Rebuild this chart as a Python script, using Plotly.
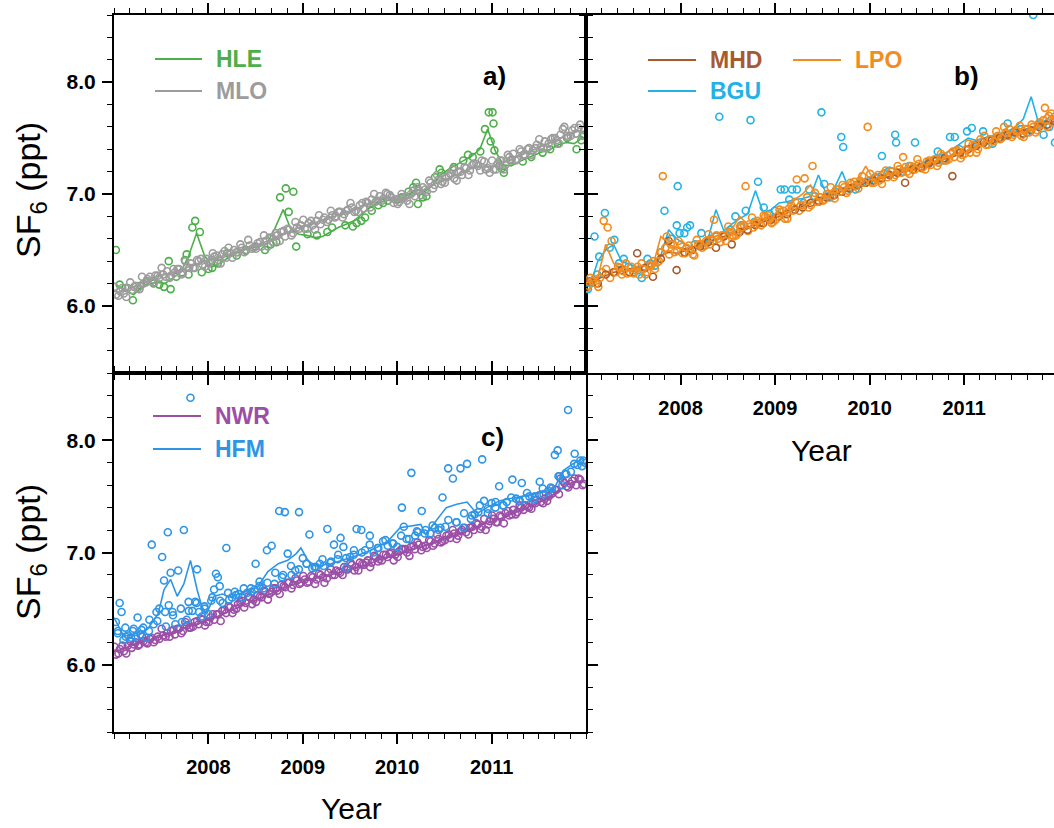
import plotly.graph_objects as go

# ---------------- time grids (decimal years) ----------------
SEMI = [2007 + (i + 0.5) / 24 for i in range(120)]   # semi-monthly samples
SEMI_B = [2007.005 + i / 24 for i in range(120)]     # interleaved semi-monthly samples
MONTH = [2007 + (i + 0.5) / 12 for i in range(60)]   # monthly samples / smoothed curves

YEAR_TICKS = [2008, 2009, 2010, 2011]
YEAR_LABELS = ["2008", "2009", "2010", "2011"]
SF6_TICKS = [6.0, 7.0, 8.0]
SF6_LABELS = ["6.0", "7.0", "8.0"]

# ---------------- panel a ----------------
MLO_PTS = [
    6.10, 6.13, 6.11, 6.16, 6.14, 6.18, 6.15, 6.20, 6.24, 6.22, 6.27, 6.25,
    6.28, 6.31, 6.27, 6.30, 6.33, 6.29, 6.35, 6.38, 6.34, 6.40, 6.37, 6.42,
    6.40, 6.44, 6.41, 6.46, 6.43, 6.47, 6.50, 6.48, 6.52, 6.49, 6.54, 6.52,
    6.56, 6.53, 6.58, 6.61, 6.57, 6.63, 6.66, 6.62, 6.68, 6.65, 6.70, 6.72,
    6.69, 6.74, 6.72, 6.76, 6.73, 6.79, 6.77, 6.81, 6.80, 6.84, 6.82, 6.86,
    6.88, 6.85, 6.90, 6.87, 6.92, 6.95, 6.93, 6.98, 6.96, 7.00, 6.97, 6.95,
    6.93, 6.96, 6.94, 7.00, 6.98, 7.03, 7.06, 7.02, 7.10, 7.08, 7.13, 7.11,
    7.15, 7.18, 7.14, 7.20, 7.17, 7.23, 7.21, 7.27, 7.25, 7.30, 7.22, 7.19,
    7.22, 7.27, 7.30, 7.26, 7.33, 7.36, 7.31, 7.38, 7.35, 7.41, 7.39, 7.44,
    7.42, 7.47, 7.45, 7.50, 7.48, 7.53, 7.60, 7.51, 7.57, 7.54, 7.62, 7.57,
]
MLO_PTS_B = [
    6.17, 6.09, 6.16, 6.08, 6.21, 6.17, 6.16, 6.26, 6.21, 6.26, 6.21, 6.27,
    6.34, 6.26, 6.25, 6.33, 6.33, 6.28, 6.40, 6.34, 6.34, 6.41, 6.42, 6.35,
    6.38, 6.47, 6.45, 6.38, 6.49, 6.52, 6.43, 6.48, 6.55, 6.48, 6.59, 6.51,
    6.51, 6.57, 6.63, 6.53, 6.61, 6.65, 6.58, 6.67, 6.69, 6.63, 6.75, 6.69,
    6.77, 6.69, 6.76, 6.68, 6.81, 6.77, 6.75, 6.85, 6.79, 6.84, 6.79, 6.85,
    6.92, 6.84, 6.84, 6.92, 6.93, 6.88, 7.00, 6.94, 6.94, 7.01, 6.99, 6.92,
    6.91, 7.00, 6.98, 6.91, 7.03, 7.06, 6.99, 7.04, 7.12, 7.05, 7.17, 7.09,
    7.10, 7.16, 7.22, 7.12, 7.20, 7.24, 7.17, 7.26, 7.27, 7.21, 7.29, 7.23,
    7.30, 7.22, 7.30, 7.22, 7.35, 7.31, 7.30, 7.40, 7.35, 7.40, 7.35, 7.41,
    7.49, 7.41, 7.41, 7.49, 7.50, 7.45, 7.58, 7.52, 7.52, 7.59, 7.59, 7.52,
]
MLO_LINE = [
    6.12, 6.14, 6.17, 6.20, 6.23, 6.26, 6.28, 6.30, 6.32, 6.35, 6.37, 6.40,
    6.42, 6.44, 6.46, 6.48, 6.51, 6.53, 6.55, 6.58, 6.61, 6.64, 6.67, 6.70,
    6.72, 6.74, 6.77, 6.79, 6.81, 6.84, 6.86, 6.89, 6.92, 6.95, 6.97, 6.97,
    6.95, 6.97, 7.00, 7.04, 7.08, 7.11, 7.14, 7.17, 7.20, 7.23, 7.25, 7.24,
    7.25, 7.28, 7.31, 7.34, 7.37, 7.40, 7.43, 7.46, 7.49, 7.53, 7.55, 7.57,
]
HLE_T = [
    2007.02, 2007.06, 2007.12, 2007.20, 2007.28, 2007.35, 2007.42, 2007.48, 2007.53, 2007.58,
    2007.60, 2007.66, 2007.72, 2007.75, 2007.77, 2007.79, 2007.83, 2007.86, 2007.91, 2007.93,
    2008.00, 2008.04, 2008.10, 2008.20, 2008.30, 2008.40, 2008.50, 2008.60, 2008.66, 2008.72,
    2008.76, 2008.82, 2008.85, 2008.90, 2008.93, 2009.05, 2009.15, 2009.26, 2009.31, 2009.45,
    2009.53, 2009.57, 2009.62, 2009.66, 2009.73, 2009.80, 2009.85, 2009.90, 2010.00, 2010.05,
    2010.12, 2010.17, 2010.20, 2010.22, 2010.27, 2010.31, 2010.40, 2010.45, 2010.47, 2010.60,
    2010.70, 2010.75, 2010.80, 2010.88, 2010.93, 2010.97, 2010.99, 2011.01, 2011.02, 2011.03,
    2011.08, 2011.11, 2011.13, 2011.20, 2011.33, 2011.42, 2011.54, 2011.62, 2011.70, 2011.80,
    2011.90, 2011.95, 2011.98,
]
HLE_PTS = [
    6.50, 6.19, 6.16, 6.05, 6.18, 6.22, 6.20, 6.19, 6.17, 6.40,
    6.15, 6.26, 6.30, 6.41, 6.46, 6.28, 6.70, 6.76, 6.66, 6.30,
    6.33, 6.34, 6.38, 6.47, 6.45, 6.50, 6.53, 6.50, 6.55, 6.57,
    6.97, 7.05, 6.84, 7.02, 6.53, 6.64, 6.63, 6.66, 6.70, 6.72,
    6.71, 6.74, 6.76, 6.79, 6.85, 6.90, 6.92, 6.94, 6.95, 6.97,
    7.02, 7.06, 7.10, 6.91, 6.97, 6.98, 7.15, 7.22, 7.19, 7.24,
    7.30, 7.35, 7.33, 7.38, 7.58, 7.73, 7.47, 7.73, 7.63, 7.39,
    7.25, 7.23, 7.19, 7.30, 7.29, 7.33, 7.37, 7.40, 7.45, 7.50,
    7.40, 7.48, 7.53,
]
HLE_LINE = [
    6.18, 6.14, 6.10, 6.17, 6.20, 6.21, 6.20, 6.25, 6.30, 6.45, 6.65, 6.45,
    6.35, 6.38, 6.43, 6.47, 6.50, 6.52, 6.53, 6.56, 6.70, 6.86, 6.68, 6.64,
    6.63, 6.61, 6.62, 6.66, 6.70, 6.73, 6.76, 6.82, 6.88, 6.92, 6.94, 6.95,
    6.96, 7.00, 7.04, 7.02, 7.08, 7.17, 7.22, 7.26, 7.30, 7.34, 7.40, 7.58,
    7.38, 7.26, 7.25, 7.29, 7.32, 7.35, 7.38, 7.40, 7.44, 7.46, 7.45, 7.50,
]

# ---------------- panel b ----------------
LPO_PTS = [
    6.18, 6.22, 6.20, 6.25, 6.76, 6.70, 6.58, 6.30, 6.34, 6.31, 6.29, 6.35,
    6.32, 6.28, 6.33, 6.30, 6.36, 6.33, 6.40, 7.16, 6.62, 6.55, 6.48, 6.58,
    6.47, 6.52, 6.50, 6.45, 6.55, 6.52, 6.58, 6.55, 6.77, 6.60, 6.63, 6.58,
    6.66, 6.62, 6.65, 6.70, 7.07, 6.73, 6.70, 6.76, 6.72, 6.80, 6.78, 6.75,
    6.80, 6.84, 6.78, 6.87, 6.85, 7.13, 6.90, 7.14, 6.88, 7.25, 6.93, 6.97,
    6.95, 7.00, 6.98, 7.04, 7.02, 7.06, 7.03, 7.09, 7.07, 7.12, 7.10, 7.60,
    7.10, 7.14, 7.12, 7.18, 7.15, 7.20, 7.17, 7.22, 7.33, 7.20, 7.25, 7.22,
    7.27, 7.24, 7.29, 7.26, 7.31, 7.28, 7.34, 7.30, 7.36, 7.33, 7.38, 7.35,
    7.40, 7.37, 7.43, 7.40, 7.46, 7.44, 7.49, 7.47, 7.52, 7.50, 7.55, 7.58,
    7.53, 7.56, 7.52, 7.58, 7.55, 7.60, 7.57, 7.62, 7.77, 7.70, 7.64, 7.68,
]
LPO_PTS_B = [
    6.16, 6.25, 6.24, 6.17, 6.30, 6.33, 6.25, 6.30, 6.35, 6.28, 6.38, 6.30,
    6.29, 6.35, 6.38, 6.28, 6.36, 6.40, 6.39, 6.48, 6.52, 6.46, 6.55, 6.49,
    6.55, 6.47, 6.54, 6.46, 6.59, 6.55, 6.54, 6.64, 6.58, 6.63, 6.57, 6.63,
    6.71, 6.63, 6.63, 6.71, 6.72, 6.67, 6.79, 6.73, 6.74, 6.81, 6.81, 6.74,
    6.77, 6.86, 6.85, 6.78, 6.90, 6.93, 6.85, 6.90, 6.97, 6.90, 7.01, 6.93,
    6.94, 7.00, 7.06, 6.96, 7.04, 7.08, 7.01, 7.10, 7.11, 7.05, 7.16, 7.10,
    7.18, 7.10, 7.17, 7.09, 7.21, 7.17, 7.15, 7.25, 7.19, 7.24, 7.18, 7.24,
    7.31, 7.23, 7.22, 7.30, 7.30, 7.25, 7.36, 7.30, 7.31, 7.38, 7.39, 7.32,
    7.36, 7.45, 7.44, 7.37, 7.49, 7.52, 7.44, 7.49, 7.56, 7.49, 7.60, 7.52,
    7.51, 7.57, 7.61, 7.51, 7.58, 7.62, 7.55, 7.64, 7.66, 7.60, 7.72, 7.66,
]
LPO_LINE = [
    6.21, 6.25, 6.55, 6.38, 6.32, 6.31, 6.33, 6.32, 6.36, 6.62, 6.55, 6.52,
    6.50, 6.52, 6.55, 6.62, 6.62, 6.65, 6.68, 6.80, 6.73, 6.77, 6.78, 6.80,
    6.82, 6.85, 6.95, 7.00, 7.08, 6.96, 7.00, 7.03, 7.05, 7.08, 7.12, 7.25,
    7.13, 7.15, 7.18, 7.20, 7.24, 7.23, 7.26, 7.28, 7.30, 7.32, 7.35, 7.37,
    7.39, 7.42, 7.45, 7.48, 7.52, 7.55, 7.54, 7.56, 7.58, 7.62, 7.72, 7.66,
]
MHD_PTS = [
    6.22, 6.20, 6.28, 6.30, 6.32, 6.30, 6.47, 6.34, 6.26, 6.42, 6.58, 6.32,
    6.48, 6.50, 6.53, 6.57, 6.52, 6.62, 6.55, 6.66, 6.68, 6.72, 6.74, 6.77,
    6.80, 6.82, 6.86, 6.88, 6.92, 6.94, 6.97, 6.99, 7.02, 7.05, 7.08, 7.10,
    7.12, 7.14, 7.17, 7.19, 7.10, 7.22, 7.24, 7.27, 7.30, 7.32, 7.16, 7.37,
    7.40, 7.43, 7.46, 7.48, 7.50, 7.53, 7.55, 7.54, 7.57, 7.60, 7.62, 7.65,
]
MHD_LINE = [
    6.21, 6.24, 6.27, 6.30, 6.31, 6.32, 6.34, 6.36, 6.39, 6.45, 6.48, 6.47,
    6.49, 6.51, 6.54, 6.57, 6.60, 6.62, 6.64, 6.66, 6.69, 6.72, 6.75, 6.78,
    6.80, 6.83, 6.86, 6.89, 6.92, 6.95, 6.97, 7.00, 7.03, 7.05, 7.08, 7.10,
    7.12, 7.14, 7.16, 7.18, 7.20, 7.22, 7.24, 7.26, 7.29, 7.31, 7.33, 7.36,
    7.39, 7.42, 7.45, 7.48, 7.50, 7.53, 7.55, 7.57, 7.59, 7.61, 7.63, 7.65,
]
BGU_T = [
    2007.02, 2007.05, 2007.09, 2007.12, 2007.14, 2007.20, 2007.25, 2007.30, 2007.35, 2007.40,
    2007.45, 2007.50, 2007.55, 2007.59, 2007.65, 2007.68, 2007.73, 2007.79, 2007.83, 2007.90,
    2007.96, 2007.97, 2007.99, 2008.04, 2008.07, 2008.10, 2008.15, 2008.22, 2008.26, 2008.32,
    2008.38, 2008.41, 2008.47, 2008.53, 2008.58, 2008.64, 2008.69, 2008.74, 2008.78, 2008.82,
    2008.88, 2008.94, 2009.00, 2009.06, 2009.10, 2009.15, 2009.18, 2009.23, 2009.30, 2009.36,
    2009.42, 2009.49, 2009.52, 2009.58, 2009.64, 2009.70, 2009.72, 2009.78, 2009.85, 2009.92,
    2010.00, 2010.06, 2010.13, 2010.19, 2010.27, 2010.28, 2010.35, 2010.42, 2010.48, 2010.55,
    2010.62, 2010.68, 2010.72, 2010.78, 2010.85, 2010.90, 2010.95, 2011.03, 2011.08, 2011.14,
    2011.20, 2011.26, 2011.30, 2011.36, 2011.42, 2011.46, 2011.52, 2011.60, 2011.66, 2011.73,
    2011.78, 2011.84, 2011.90, 2011.96,
]
BGU_PTS = [
    6.15, 6.20, 6.62, 6.28, 6.44, 6.83, 6.52, 6.59, 6.38, 6.42,
    6.35, 6.30, 6.32, 6.25, 6.42, 6.38, 6.36, 6.48, 6.85, 6.60,
    6.72, 7.07, 6.65, 6.65, 6.70, 6.72, 6.55, 6.65, 6.54, 6.60,
    6.62, 7.69, 6.63, 6.68, 6.80, 6.72, 6.85, 7.66, 6.75, 7.11,
    6.88, 6.82, 6.85, 7.04, 7.04, 6.95, 7.04, 7.04, 6.92, 7.04,
    6.98, 7.73, 7.09, 6.97, 7.02, 7.51, 7.42, 7.05, 7.04, 7.10,
    7.12, 7.15, 7.34, 7.18, 7.53, 7.46, 7.20, 7.25, 7.46, 7.24,
    7.28, 7.30, 7.38, 7.30, 7.51, 7.51, 7.40, 7.56, 7.59, 7.44,
    7.56, 7.48, 7.45, 7.50, 7.52, 7.63, 7.55, 7.58, 7.55, 8.60,
    7.62, 7.53, 7.60, 7.46,
]
BGU_LINE = [
    6.18, 6.40, 6.50, 6.55, 6.40, 6.37, 6.35, 6.36, 6.33, 6.45, 6.68, 6.60,
    6.55, 6.52, 6.52, 6.60, 6.86, 6.67, 6.73, 6.78, 6.82, 7.03, 6.83, 6.86,
    6.92, 6.93, 6.95, 6.96, 6.98, 7.17, 7.00, 7.05, 7.20, 7.02, 7.08, 7.12,
    7.15, 7.20, 7.24, 7.22, 7.20, 7.25, 7.26, 7.30, 7.34, 7.36, 7.40, 7.45,
    7.50, 7.48, 7.50, 7.52, 7.54, 7.56, 7.60, 7.67, 7.87, 7.62, 7.67, 7.73,
]

# ---------------- panel c ----------------
NWR_PTS = [
    6.09, 6.14, 6.12, 6.17, 6.15, 6.20, 6.18, 6.21, 6.19, 6.24, 6.22, 6.23,
    6.26, 6.28, 6.30, 6.27, 6.32, 6.30, 6.35, 6.33, 6.38, 6.36, 6.40, 6.38,
    6.42, 6.40, 6.45, 6.48, 6.46, 6.51, 6.49, 6.54, 6.57, 6.55, 6.60, 6.58,
    6.62, 6.60, 6.65, 6.63, 6.68, 6.66, 6.71, 6.69, 6.73, 6.71, 6.75, 6.73,
    6.76, 6.74, 6.78, 6.76, 6.80, 6.73, 6.82, 6.80, 6.84, 6.82, 6.87, 6.85,
    6.89, 6.87, 6.91, 6.89, 6.93, 6.91, 6.96, 6.94, 6.98, 6.96, 7.00, 6.98,
    7.01, 7.03, 7.00, 7.05, 7.03, 7.07, 7.05, 7.04, 7.10, 7.08, 7.12, 7.10,
    7.15, 7.13, 7.17, 7.15, 7.20, 7.18, 7.22, 7.20, 7.25, 7.23, 7.20, 7.28,
    7.30, 7.27, 7.32, 7.35, 7.33, 7.38, 7.36, 7.40, 7.42, 7.40, 7.44, 7.47,
    7.45, 7.48, 7.50, 7.53, 7.56, 7.66, 7.62, 7.58, 7.64, 7.60, 7.65, 7.61,
]
NWR_PTS_B = [
    6.16, 6.10, 6.17, 6.10, 6.21, 6.18, 6.17, 6.25, 6.20, 6.23, 6.20, 6.25,
    6.32, 6.25, 6.25, 6.31, 6.32, 6.28, 6.38, 6.33, 6.34, 6.39, 6.41, 6.35,
    6.38, 6.45, 6.45, 6.39, 6.49, 6.52, 6.46, 6.50, 6.56, 6.51, 6.61, 6.54,
    6.56, 6.61, 6.66, 6.58, 6.65, 6.68, 6.63, 6.70, 6.73, 6.68, 6.77, 6.72,
    6.79, 6.73, 6.79, 6.72, 6.81, 6.78, 6.77, 6.85, 6.80, 6.83, 6.80, 6.85,
    6.91, 6.84, 6.84, 6.90, 6.91, 6.87, 6.97, 6.92, 6.93, 6.98, 6.99, 6.93,
    6.96, 7.03, 7.03, 6.97, 7.06, 7.09, 7.02, 7.06, 7.11, 7.06, 7.16, 7.09,
    7.11, 7.16, 7.20, 7.12, 7.19, 7.22, 7.16, 7.23, 7.26, 7.21, 7.30, 7.25,
    7.33, 7.27, 7.33, 7.26, 7.37, 7.34, 7.34, 7.42, 7.38, 7.41, 7.39, 7.44,
    7.51, 7.44, 7.46, 7.52, 7.56, 7.52, 7.64, 7.59, 7.61, 7.66, 7.66, 7.60,
]
NWR_LINE = [
    6.12, 6.15, 6.18, 6.20, 6.22, 6.24, 6.27, 6.29, 6.31, 6.34, 6.36, 6.39,
    6.41, 6.44, 6.47, 6.50, 6.53, 6.56, 6.59, 6.62, 6.65, 6.68, 6.71, 6.73,
    6.75, 6.77, 6.78, 6.80, 6.82, 6.84, 6.86, 6.88, 6.90, 6.93, 6.95, 6.97,
    6.99, 7.02, 7.04, 7.06, 7.08, 7.11, 7.14, 7.16, 7.19, 7.21, 7.24, 7.26,
    7.29, 7.31, 7.34, 7.37, 7.40, 7.43, 7.46, 7.50, 7.55, 7.60, 7.63, 7.64,
]
HFM_BAND = [
    6.30, 6.25, 6.32, 6.31, 6.40, 6.39, 6.47, 6.44, 6.50, 6.48, 6.55, 6.52,
    6.60, 6.57, 6.64, 6.62, 6.68, 6.65, 6.74, 6.73, 6.82, 6.80, 6.88, 6.85,
    6.90, 6.87, 6.94, 6.91, 6.98, 6.95, 7.02, 7.00, 7.07, 7.04, 7.11, 7.08,
    7.15, 7.12, 7.19, 7.17, 7.24, 7.22, 7.29, 7.27, 7.35, 7.33, 7.42, 7.39,
    7.45, 7.42, 7.49, 7.46, 7.53, 7.50, 7.57, 7.58, 7.68, 7.70, 7.79, 7.77,
]
HFM_T = [
    2007.02, 2007.04, 2007.06, 2007.08, 2007.10, 2007.12, 2007.15, 2007.18, 2007.20, 2007.23,
    2007.25, 2007.28, 2007.31, 2007.34, 2007.37, 2007.40, 2007.42, 2007.45, 2007.48, 2007.51,
    2007.53, 2007.55, 2007.57, 2007.58, 2007.60, 2007.62, 2007.65, 2007.68, 2007.72, 2007.74,
    2007.77, 2007.79, 2007.81, 2007.83, 2007.86, 2007.88, 2007.90, 2007.93, 2007.96, 2008.00,
    2008.03, 2008.06, 2008.08, 2008.10, 2008.12, 2008.15, 2008.19, 2008.22, 2008.25, 2008.28,
    2008.32, 2008.36, 2008.41, 2008.45, 2008.49, 2008.50, 2008.54, 2008.58, 2008.62, 2008.67,
    2008.70, 2008.75, 2008.78, 2008.81, 2008.84, 2008.88, 2008.92, 2008.96, 2009.00, 2009.04,
    2009.07, 2009.10, 2009.14, 2009.18, 2009.22, 2009.26, 2009.30, 2009.33, 2009.37, 2009.40,
    2009.43, 2009.46, 2009.50, 2009.54, 2009.57, 2009.62, 2009.66, 2009.71, 2009.75, 2009.80,
    2009.85, 2009.90, 2009.95, 2010.00, 2010.05, 2010.07, 2010.10, 2010.15, 2010.19, 2010.22,
    2010.26, 2010.30, 2010.35, 2010.40, 2010.44, 2010.48, 2010.51, 2010.54, 2010.59, 2010.63,
    2010.67, 2010.70, 2010.74, 2010.78, 2010.82, 2010.86, 2010.90, 2010.92, 2010.96, 2011.00,
    2011.04, 2011.08, 2011.12, 2011.16, 2011.22, 2011.26, 2011.30, 2011.32, 2011.36, 2011.40,
    2011.45, 2011.51, 2011.55, 2011.60, 2011.64, 2011.67, 2011.70, 2011.72, 2011.75, 2011.78,
    2011.81, 2011.84, 2011.88, 2011.91, 2011.94, 2011.97, 2011.99,
]
HFM_PTS = [
    6.38, 6.28, 6.55, 6.47, 6.22, 6.33, 6.26, 6.24, 6.30, 6.25,
    6.42, 6.27, 6.33, 6.24, 6.30, 7.07, 6.36, 6.47, 6.50, 6.96,
    6.75, 6.34, 7.18, 6.53, 6.82, 6.47, 6.36, 6.84, 6.38, 7.20,
    6.40, 6.56, 8.38, 6.48, 6.56, 6.85, 6.47, 6.43, 6.50, 6.45,
    6.57, 6.67, 6.81, 6.78, 6.70, 6.55, 7.04, 6.58, 6.60, 6.65,
    6.63, 6.60, 6.64, 6.68, 6.67, 6.90, 6.70, 6.68, 7.02, 7.06,
    6.72, 7.37, 6.78, 7.36, 6.99, 6.80, 6.84, 7.36, 6.95, 6.90,
    7.16, 6.86, 6.87, 6.90, 6.88, 7.21, 6.92, 7.07, 6.94, 7.13,
    7.05, 6.86, 6.96, 6.98, 7.21, 7.20, 7.02, 7.15, 7.00, 7.04,
    7.10, 7.06, 7.08, 7.05, 7.40, 7.23, 7.12, 7.71, 7.15, 7.18,
    7.37, 7.20, 7.17, 7.22, 7.20, 7.49, 7.23, 7.75, 7.66, 7.27,
    7.75, 7.22, 7.79, 7.30, 7.34, 7.36, 7.83, 7.46, 7.35, 7.44,
    7.40, 7.59, 7.42, 7.45, 7.65, 7.48, 7.46, 7.62, 7.48, 7.50,
    7.47, 7.63, 7.52, 7.55, 7.57, 7.87, 7.91, 7.68, 7.60, 7.70,
    8.27, 7.72, 7.88, 7.78, 7.82, 7.82, 7.80,
]
HFM_LINE_T = [
    2007.00, 2007.10, 2007.25, 2007.36, 2007.47, 2007.53, 2007.60, 2007.67, 2007.74, 2007.81,
    2007.88, 2007.93, 2007.98, 2008.06, 2008.15, 2008.24, 2008.35, 2008.45, 2008.52, 2008.63,
    2008.74, 2008.84, 2008.93, 2008.98, 2009.06, 2009.15, 2009.30, 2009.45, 2009.60, 2009.75,
    2009.90, 2010.03, 2010.12, 2010.25, 2010.30, 2010.40, 2010.52, 2010.63, 2010.74, 2010.80,
    2010.85, 2010.95, 2011.08, 2011.25, 2011.45, 2011.60, 2011.68, 2011.76, 2011.86, 2011.97,
]
HFM_LINE = [
    6.42, 6.26, 6.26, 6.32, 6.46, 6.67, 6.76, 6.61, 6.72, 6.93,
    6.67, 6.52, 6.45, 6.61, 6.63, 6.60, 6.64, 6.67, 6.69, 6.83,
    6.90, 6.93, 6.99, 7.04, 6.92, 6.88, 6.90, 6.94, 6.98, 7.03,
    7.10, 7.22, 7.23, 7.25, 7.16, 7.27, 7.40, 7.43, 7.45, 7.39,
    7.35, 7.40, 7.46, 7.49, 7.52, 7.55, 7.60, 7.73, 7.79, 7.84,
]

# ---------------- styling ----------------
C_HLE, C_MLO = "#4DAF4A", "#9C9C9C"
C_MHD, C_LPO, C_BGU = "#A65A2E", "#F28C1E", "#22B2E6"
C_NWR, C_HFM = "#9B4FA6", "#2E95E6"
FONT = "Liberation Sans, Arial, sans-serif"

W, H = 1054, 828
ML, MT, MR, MB = 114, 15, 0, 96
PW, PH = W - ML - MR, H - MT - MB


def px(x):
    return (x - ML) / PW


def py(y):
    return 1 - (y - MT) / PH


XSPLIT = px(586)
YSPLIT = py(373)

fig = go.Figure()


def pts(x, y, color, xa, ya):
    fig.add_trace(go.Scatter(
        x=x, y=y, mode="markers", xaxis=xa, yaxis=ya, showlegend=False,
        marker=dict(symbol="circle-open", size=7, color=color, line=dict(width=1.6, color=color)),
    ))


def line(x, y, color, xa, ya):
    fig.add_trace(go.Scatter(
        x=x, y=y, mode="lines", xaxis=xa, yaxis=ya, showlegend=False,
        line=dict(color=color, width=1.6),
    ))


# panel a
line(MONTH, HLE_LINE, C_HLE, "x", "y")
pts(HLE_T, HLE_PTS, C_HLE, "x", "y")
line(MONTH, MLO_LINE, C_MLO, "x", "y")
pts(SEMI, MLO_PTS, C_MLO, "x", "y")
pts(SEMI_B, MLO_PTS_B, C_MLO, "x", "y")
# panel b
pts(BGU_T, BGU_PTS, C_BGU, "x2", "y2")
line(MONTH, BGU_LINE, C_BGU, "x2", "y2")
line(MONTH, MHD_LINE, C_MHD, "x2", "y2")
line(MONTH, LPO_LINE, C_LPO, "x2", "y2")
pts(SEMI_B, LPO_PTS_B, C_LPO, "x2", "y2")
pts(MONTH, MHD_PTS, C_MHD, "x2", "y2")
pts(SEMI, LPO_PTS, C_LPO, "x2", "y2")
# panel c
line(MONTH, NWR_LINE, C_NWR, "x3", "y3")
pts(SEMI, NWR_PTS, C_NWR, "x3", "y3")
pts(SEMI_B, NWR_PTS_B, C_NWR, "x3", "y3")
pts(MONTH, HFM_BAND, C_HFM, "x3", "y3")
pts(HFM_T, HFM_PTS, C_HFM, "x3", "y3")
line(HFM_LINE_T, HFM_LINE, C_HFM, "x3", "y3")

TICKFONT = dict(family=FONT, size=20, color="black")


def xaxis(domain, anchor, rng, labels):
    return dict(
        domain=domain, anchor=anchor, range=rng, showgrid=False, zeroline=False,
        showline=True, linecolor="black", linewidth=2, mirror="allticks",
        ticks="outside", ticklen=10, tickwidth=1.8, tickcolor="black",
        tickvals=YEAR_TICKS, ticktext=["<b>%s</b>" % t for t in YEAR_LABELS],
        showticklabels=labels, tickfont=TICKFONT, ticklabelstandoff=6,
        minor=dict(dtick=1 / 6, tick0=2007, ticks="outside", ticklen=5,
                   tickwidth=1.3, tickcolor="black", showgrid=False),
    )


def yaxis(domain, anchor, labels, mirror):
    return dict(
        domain=domain, anchor=anchor, range=[5.4, 8.6], showgrid=False, zeroline=False,
        showline=True, linecolor="black", linewidth=2, mirror=mirror,
        ticks="outside", ticklen=10, tickwidth=1.8, tickcolor="black",
        tickvals=SF6_TICKS, ticktext=["<b>%s</b>" % t for t in SF6_LABELS],
        showticklabels=labels, tickfont=dict(family=FONT, size=21, color="black"),
        ticklabelstandoff=2,
        minor=dict(dtick=0.2, tick0=5.4, ticks="outside", ticklen=5,
                   tickwidth=1.3, tickcolor="black", showgrid=False),
    )


fig.update_layout(
    width=W, height=H, margin=dict(l=ML, r=MR, t=MT, b=MB, pad=0),
    paper_bgcolor="white", plot_bgcolor="white", showlegend=False,
    font=dict(family=FONT, color="black"),
    xaxis=xaxis([0, XSPLIT], "y", [2007, 2012], False),
    yaxis=yaxis([YSPLIT, 1], "x", True, "allticks"),
    xaxis2=xaxis([XSPLIT, 1], "y2", [2007, 2011.95], True),
    yaxis2=yaxis([YSPLIT, 1], "x2", False, False),
    xaxis3=xaxis([0, XSPLIT], "y3", [2007, 2012], True),
    yaxis3=yaxis([0, YSPLIT], "x3", True, "allticks"),
)

ann = []
shapes = []


def text(x, y, s, size, color="black", bold=False, angle=0, xanchor="center"):
    ann.append(dict(
        x=px(x), y=py(y), xref="paper", yref="paper", text=("<b>%s</b>" % s) if bold else s,
        showarrow=False, textangle=angle, xanchor=xanchor, yanchor="middle",
        font=dict(family=FONT, size=size, color=color),
    ))


def legend_item(x0, x1, y, label, color):
    shapes.append(dict(type="line", xref="paper", yref="paper", x0=px(x0), x1=px(x1),
                       y0=py(y), y1=py(y), line=dict(color=color, width=1.8)))
    text(x1 + 12, y, label, 23, color, True, xanchor="left")


legend_item(155, 202, 59, "HLE", C_HLE)
legend_item(155, 202, 91, "MLO", C_MLO)
legend_item(648, 696, 60, "MHD", C_MHD)
legend_item(793, 841, 60, "LPO", C_LPO)
legend_item(648, 696, 91, "BGU", C_BGU)
legend_item(153, 201, 416, "NWR", C_NWR)
legend_item(153, 201, 449, "HFM", C_HFM)

text(494, 76, "a)", 26, bold=True)
text(966, 76, "b)", 26, bold=True)
text(492, 437, "c)", 26, bold=True)

text(30, 190, "SF<sub>6</sub> (ppt)", 34, angle=-90)
text(30, 552, "SF<sub>6</sub> (ppt)", 34, angle=-90)
text(351, 809, "Year", 30)
text(821, 450, "Year", 30)

fig.update_layout(annotations=ann, shapes=shapes)
fig.write_html("out.html")
